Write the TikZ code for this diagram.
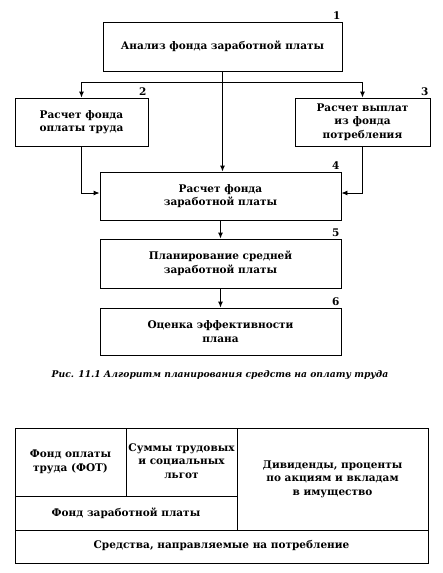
\documentclass[tikz,border=0pt]{standalone}
\usepackage{fontspec}
\setmainfont{DejaVu Serif}
\usetikzlibrary{arrows.meta,calc}
\begin{document}
\begin{tikzpicture}[x=1pt,y=-1pt,
  line width=0.9pt,
  every node/.style={font=\fontsize{10.5}{13.5}\selectfont\bfseries},
  blk/.style={draw,rectangle,align=center,inner sep=2pt},
  num/.style={anchor=south east,inner sep=1.5pt,font=\fontsize{10.5}{12}\selectfont\bfseries},
  arr/.style={-{Latex[length=6pt,width=5pt]}},
  cell/.style={align=center,inner sep=0pt}]
\useasboundingbox (0,0) rectangle (443,573);
% flowchart boxes
\node[blk,minimum width=239pt,minimum height=49pt] (b1) at (222.5,46.5) {Анализ фонда заработной платы};
\node[blk,minimum width=133pt,minimum height=48pt] (b2) at (81.5,122) {Расчет фонда\\оплаты труда};
\node[blk,minimum width=135pt,minimum height=48pt] (b3) at (362.5,122) {Расчет выплат\\из фонда\\потребления};
\node[blk,minimum width=241pt,minimum height=48pt] (b4) at (220.5,196) {Расчет фонда\\заработной платы};
\node[blk,minimum width=241pt,minimum height=49pt] (b5) at (220.5,263.5) {Планирование средней\\заработной платы};
\node[blk,minimum width=241pt,minimum height=47pt] (b6) at (220.5,331.5) {Оценка эффективности\\плана};
% numbers
\node[num] (n1) at (b1.north east) {1};
\node[num] (n2) at (b2.north east) {2};
\node[num] (n3) at (b3.north east) {3};
\node[num] (n4) at (b4.north east) {4};
\node[num] (n5) at (b5.north east) {5};
\node[num] (n6) at (b6.north east) {6};
% connectors
\coordinate (sp) at ($(b1.south)+(-0.5,11)$);
\draw[arr] (sp) -| (b2.north);
\draw[arr] (sp) -| (b3.north);
\draw[arr] (b1.south) -- (b1.south |- b4.north);
\draw[arr] (b2.south) |- ([yshift=3pt]b4.west);
\draw[arr] (b3.south) |- ([yshift=3pt]b4.east);
\draw[arr] (b4.south) -- (b5.north);
\draw[arr] (b5.south) -- (b6.north);
% caption
\node[font=\fontsize{9.2}{11}\selectfont\bfseries\itshape] (cap) at (220,375) {Рис. 11.1 Алгоритм планирования средств на оплату труда};
% table
\draw (15,428) rectangle (428,563);
\draw (126,428) -- (126,496);
\draw (237,428) -- (237,530);
\draw (15,496) -- (237,496);
\draw (15,530) -- (428,530);
\node[cell] (t1) at (70.5,462) {Фонд оплаты\\труда (ФОТ)};
\node[cell] (t2) at (181.5,461) {Суммы трудовых\\и социальных\\льгот};
\node[cell] (t3) at (332.5,479) {Дивиденды, проценты\\по акциям и вкладам\\в имущество};
\node[cell] (t4) at (126,513) {Фонд заработной платы};
\node[cell] (t5) at (221.5,546) {Средства, направляемые на потребление};
\end{tikzpicture}
\end{document}
